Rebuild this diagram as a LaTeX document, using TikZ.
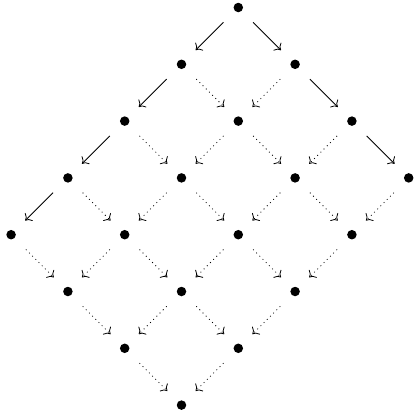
\documentclass[tikz,border=0pt]{standalone}
\usetikzlibrary{arrows.meta}
\begin{document}
\begin{tikzpicture}[x=1pt,y=-1pt,
  dot/.style={circle,fill,inner sep=0pt,minimum size=9.5pt},
  edge/.style={line width=0.8pt,-{To[length=5.5pt,width=11pt]},shorten <=16pt,shorten >=15pt},
  solidedge/.style={edge},
  dottededge/.style={edge,dash pattern=on 0.9pt off 3.6pt}]
\useasboundingbox (0,0) rectangle (413,415);
\foreach \i in {0,...,4} {
  \foreach \j in {0,...,3} {
    \node[dot] (n-\i-\j) at ({238.3-56.8*\i+56.8*\j},{7.5+56.8*\i+56.8*\j}) {};
  }
}
\foreach \i in {0,...,4} {
  \foreach \j in {0,...,3} {
    \pgfmathtruncatemacro{\ni}{\i+1}
    \pgfmathtruncatemacro{\nj}{\j+1}
    \ifnum\i<4
      \ifnum\j=0
        \draw[solidedge] (n-\i-\j) -- (n-\ni-\j);
      \else
        \draw[dottededge] (n-\i-\j) -- (n-\ni-\j);
      \fi
    \fi
    \ifnum\j<3
      \ifnum\i=0
        \draw[solidedge] (n-\i-\j) -- (n-\i-\nj);
      \else
        \draw[dottededge] (n-\i-\j) -- (n-\i-\nj);
      \fi
    \fi
  }
}
\end{tikzpicture}
\end{document}
